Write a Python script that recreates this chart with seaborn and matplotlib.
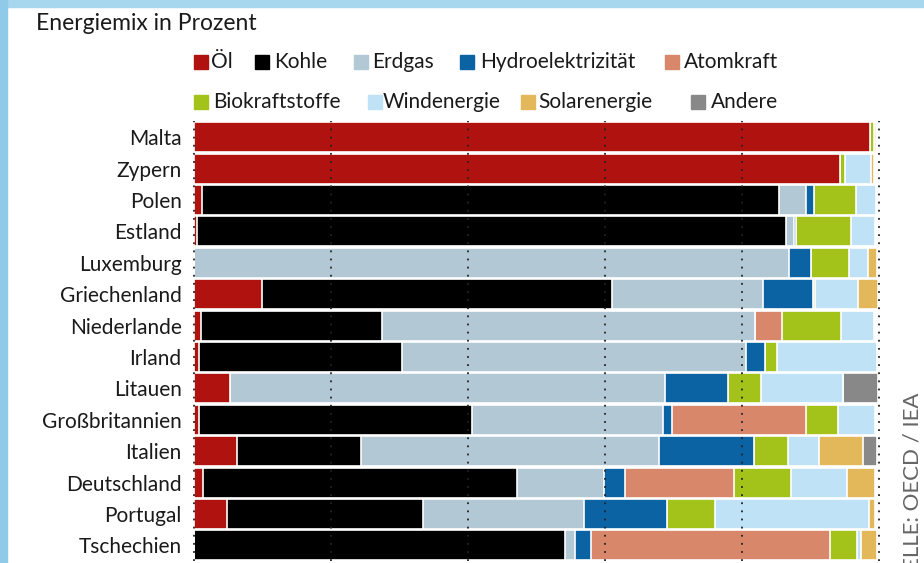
import pandas as pd
import seaborn as sns
import matplotlib.pyplot as plt
from matplotlib.patches import Rectangle

# energy mix per country, percent
countries = ['Malta', 'Zypern', 'Polen', 'Estland', 'Luxemburg', 'Griechenland',
             'Niederlande', 'Irland', 'Litauen', 'Großbritannien', 'Italien',
             'Deutschland', 'Portugal', 'Tschechien']
oel    = [98.7, 94.3, 1.1, 0.5, 0.0, 9.9, 1.0, 0.8, 5.2, 0.8, 6.3, 1.3, 4.8, 0.0]
kohle  = [0.0, 0.0, 84.3, 85.9, 0.0, 51.1, 26.5, 29.5, 0.0, 39.8, 18.1, 45.8, 28.6, 54.2]
erdgas = [0.0, 0.0, 4.0, 1.2, 86.8, 22.1, 54.4, 50.3, 63.6, 27.9, 43.5, 12.7, 23.5, 1.4]
hydro  = [0.0, 0.0, 1.1, 0.3, 3.2, 7.2, 0.0, 2.8, 9.2, 1.3, 13.9, 3.1, 12.2, 2.4]
atom   = [0.0, 0.0, 0.0, 0.0, 0.0, 0.0, 3.9, 0.0, 0.0, 19.5, 0.0, 16.0, 0.0, 34.9]
bio    = [0.5, 0.8, 6.2, 8.0, 5.6, 0.3, 8.7, 1.7, 4.8, 4.7, 4.9, 8.2, 7.0, 3.9]
wind   = [0.0, 3.8, 2.9, 3.5, 2.8, 6.4, 4.8, 14.6, 12.0, 5.4, 4.5, 8.2, 22.5, 0.5]
solar  = [0.4, 0.4, 0.0, 0.0, 1.3, 2.9, 0.0, 0.0, 0.0, 0.0, 6.5, 4.1, 0.8, 2.4]
andere = [0.0, 0.0, 0.0, 0.0, 0.0, 0.0, 0.0, 0.0, 5.1, 0.0, 2.0, 0.0, 0.0, 0.0]

sources = ['Öl', 'Kohle', 'Erdgas', 'Hydroelektrizität', 'Atomkraft',
           'Biokraftstoffe', 'Windenergie', 'Solarenergie', 'Andere']
colors = ['#b0120f', '#000000', '#b2c8d5', '#0b63a3', '#d9876b',
          '#a3c31b', '#bfe2f6', '#e3b85a', '#888888']

df = pd.DataFrame(dict(zip(sources, [oel, kohle, erdgas, hydro, atom, bio, wind, solar, andere])),
                  index=countries)
cum = df.cumsum(axis=1)

sns.set_theme(style='white')
plt.rcParams['font.family'] = ['Lato', 'DejaVu Sans']

W, H = 924, 563
fig = plt.figure(figsize=(W / 100, H / 100), dpi=100)
fig.patch.set_facecolor('white')


def fx(px):
    return px / W


def fy(py):
    return 1 - py / H


ax = fig.add_axes([fx(194), fy(121.5 + 14 * 31.4), fx(685), 14 * 31.4 / H])

# stacked bars: draw cumulative totals from the last source back to the first
for src, col in zip(sources[::-1], colors[::-1]):
    sns.barplot(x=cum[src].values, y=countries, orient='h', color=col, saturation=1,
                width=0.95, edgecolor='white', linewidth=1.2, ax=ax, zorder=2)

for v in range(0, 101, 20):
    ax.axvline(v, color='#222222', lw=1.3, ls=(0, (1, 3.5)), zorder=10, clip_on=False)

ax.set_xlim(0, 100)
ax.set_ylim(13.5, -0.5)
ax.set_xticks([])
ax.set_xlabel('')
ax.set_ylabel('')
ax.tick_params(axis='y', length=0, pad=9, labelsize=15, labelcolor='#1a1a1a')
sns.despine(ax=ax, left=True, bottom=True)

# title
fig.text(fx(36), fy(30), 'Energiemix in Prozent', fontsize=16.5, color='#1a1a1a', va='baseline')

# legend (two rows, hand placed)
leg = [(0, 194, 211, 62), (1, 255, 274, 62), (2, 354, 372, 62), (3, 460, 480, 62),
       (4, 665, 684, 62), (5, 194, 213, 102), (6, 368, 383, 102), (7, 521, 538, 102),
       (8, 691, 711, 102)]
for i, sq, tx, yc in leg:
    fig.add_artist(Rectangle((fx(sq), fy(yc + 7)), fx(14), 14 / H, color=colors[i],
                             transform=fig.transFigure))
    fig.text(fx(tx), fy(yc), sources[i], fontsize=15, color='#1a1a1a', va='center')

# blue frame top and left
fig.add_artist(Rectangle((0, fy(7)), 1, 7 / H, color='#a6d7ee', transform=fig.transFigure))
fig.add_artist(Rectangle((0, 0), fx(7), 1, color='#8fcbe8', transform=fig.transFigure))

# source note, cut at the bottom edge
fig.text(fx(913), fy(393), 'QUELLE: OECD / IEA', rotation=90, fontsize=16,
         color='#666666', ha='center', va='top')

fig.savefig('out.png', dpi=100)
